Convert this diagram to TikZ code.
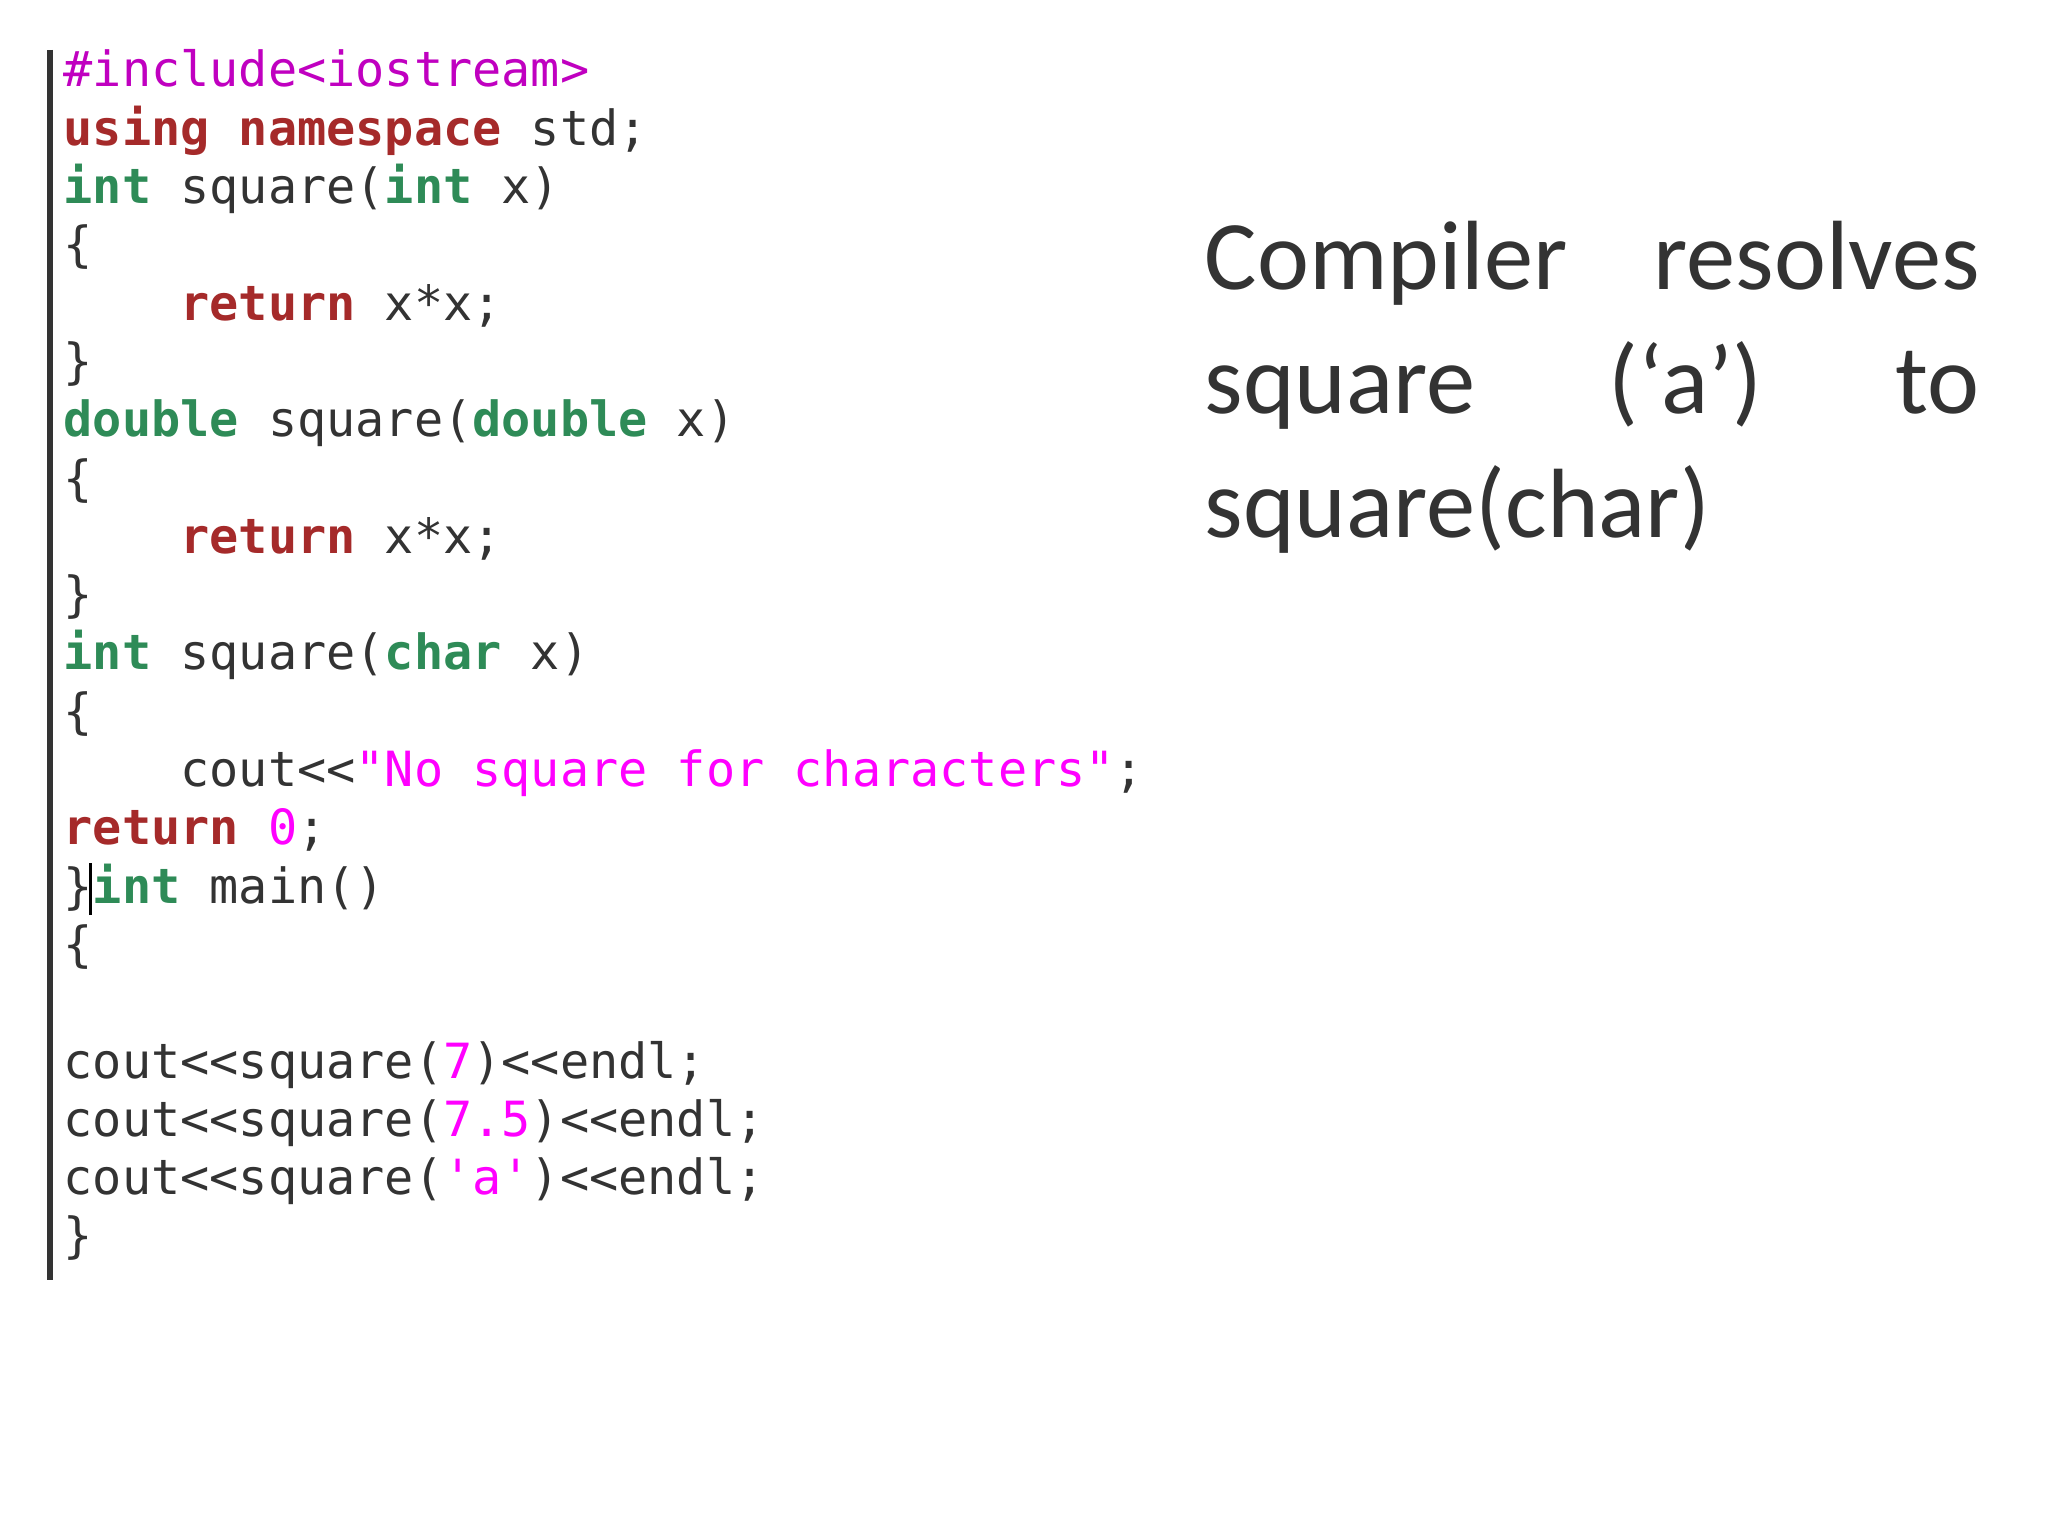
\documentclass[tikz,border=0pt]{standalone}
\usepackage{fontspec}
\setmonofont{DejaVu Sans Mono}
\newfontfamily\slidefont{Carlito}
\definecolor{pp}{HTML}{C000C0}
\definecolor{kw}{HTML}{A52A2A}
\definecolor{ty}{HTML}{2E8B57}
\definecolor{st}{HTML}{FF00FF}
\definecolor{tx}{HTML}{333333}
\newcommand{\K}[1]{\textcolor{kw}{\textbf{#1}}}
\newcommand{\T}[1]{\textcolor{ty}{\textbf{#1}}}
\newcommand{\Sx}[1]{\textcolor{st}{#1}}
\begin{document}
\begin{tikzpicture}[x=1cm,y=1cm,
  code/.style={anchor=base west,inner sep=0pt,font=\fontsize{13.8pt}{16pt}\ttfamily,text=tx}]
\useasboundingbox (0,0) rectangle (20.48,-15.36);
\fill[white] (0,0) rectangle (20.48,-15.36);
\draw[line width=1.5pt,black!80] (0.50,-0.50) -- (0.50,-12.80);
\def\lx{0.63}
\newcommand{\ly}[1]{-0.87-0.583*(#1-1)}
\node[code] (l1) at (\lx,{\ly{1}}) {\textcolor{pp}{\#include<iostream>}};
\node[code] (l2) at (\lx,{\ly{2}}) {\K{using} \K{namespace} std;};
\node[code] (l3) at (\lx,{\ly{3}}) {\T{int} square(\T{int} x)};
\node[code] (l4) at (\lx,{\ly{4}}) {\{};
\node[code] (l5) at (\lx,{\ly{5}}) {\ \ \ \ \K{return} x*x;};
\node[code] (l6) at (\lx,{\ly{6}}) {\}};
\node[code] (l7) at (\lx,{\ly{7}}) {\T{double} square(\T{double} x)};
\node[code] (l8) at (\lx,{\ly{8}}) {\{};
\node[code] (l9) at (\lx,{\ly{9}}) {\ \ \ \ \K{return} x*x;};
\node[code] (l10) at (\lx,{\ly{10}}) {\}};
\node[code] (l11) at (\lx,{\ly{11}}) {\T{int} square(\T{char} x)};
\node[code] (l12) at (\lx,{\ly{12}}) {\{};
\node[code] (l13) at (\lx,{\ly{13}}) {\ \ \ \ cout<<\Sx{"No square for characters"};};
\node[code] (l14) at (\lx,{\ly{14}}) {\K{return} \Sx{0};};
\node[code] (l15) at (\lx,{\ly{15}}) {\}\T{int} main()};
\node[code] (l16) at (\lx,{\ly{16}}) {\{};
\node[code] (l18) at (\lx,{\ly{18}}) {cout<<square(\Sx{7})<<endl;};
\node[code] (l19) at (\lx,{\ly{19}}) {cout<<square(\Sx{7.5})<<endl;};
\node[code] (l20) at (\lx,{\ly{20}}) {cout<<square(\Sx{'a'})<<endl;};
\node[code] (l21) at (\lx,{\ly{21}}) {\}};
\draw[line width=1pt,black] (0.905,{\ly{15}-0.12}) -- (0.905,{\ly{15}+0.40});
\node[anchor=base west,inner sep=0pt,text=tx,text width=7.75cm,align=justify,
  font=\slidefont\fontsize{28pt}{35.2pt}\selectfont] (txt) at (12.04,-2.90)
  {Compiler resolves square (‘a’) to square(char)};
\end{tikzpicture}
\end{document}
